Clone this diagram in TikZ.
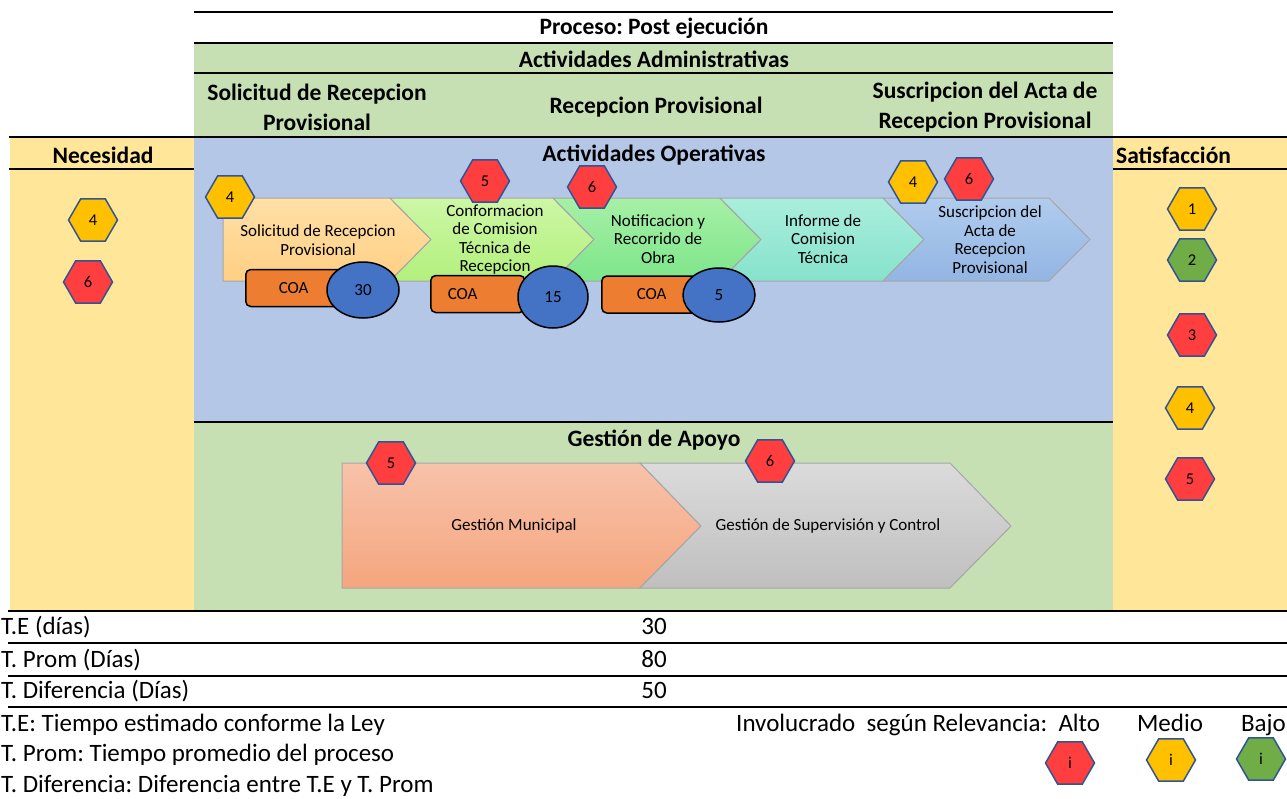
\documentclass[tikz,border=0pt]{standalone}
\usepackage{fontspec}
\setmainfont{Carlito}
\frenchspacing
\usetikzlibrary{shapes.geometric}

\definecolor{admgreen}{HTML}{C6E0B4}
\definecolor{opblue}{HTML}{B4C7E7}
\definecolor{needyellow}{HTML}{FFE699}
\definecolor{hexred}{HTML}{FF3F3F}
\definecolor{hexyellow}{HTML}{FFC000}
\definecolor{hexgreen}{HTML}{70AD47}
\definecolor{hexline}{HTML}{2F5597}
\definecolor{coaorange}{HTML}{ED7D31}
\definecolor{daysblue}{HTML}{4472C4}
\definecolor{chevAt}{HTML}{FFE0A6}\definecolor{chevAb}{HTML}{FFCF84}
\definecolor{chevBt}{HTML}{CDF7A6}\definecolor{chevBb}{HTML}{B2F07C}
\definecolor{chevCt}{HTML}{A6F0A6}\definecolor{chevCb}{HTML}{7DE58A}
\definecolor{chevDt}{HTML}{AAEEDD}\definecolor{chevDb}{HTML}{86E2CC}
\definecolor{chevEt}{HTML}{B0CCEE}\definecolor{chevEb}{HTML}{93B5E3}
\definecolor{munit}{HTML}{F8C2AA}\definecolor{munib}{HTML}{F4A67E}
\definecolor{supert}{HTML}{DBDBDB}\definecolor{superb}{HTML}{BFBFBF}

\tikzset{
  hexa/.style={regular polygon, regular polygon sides=6, minimum size=49pt,
    inner sep=0pt, draw=hexline, line width=1.5pt, font=\fontsize{16.5}{16.5}\selectfont},
  alto/.style={hexa, fill=hexred},
  medio/.style={hexa, fill=hexyellow},
  bajo/.style={hexa, fill=hexgreen},
  head/.style={font=\fontsize{23.5}{30}\selectfont\bfseries, align=center},
  steptext/.style={align=center, font=\fontsize{17}{18.5}\selectfont},
  chevline/.style={draw=gray!70, line width=1pt},
  coabox/.style={draw=black, line width=1.5pt, fill=coaorange, rounded corners=5pt,
    minimum height=37pt, text width=40pt, align=left, anchor=west,
    font=\fontsize{17}{17}\selectfont},
  days/.style={ellipse, draw=black, line width=1.5pt, fill=daysblue, inner sep=0pt,
    font=\fontsize{17}{17}\selectfont},
  rule/.style={line width=1.8pt},
  note/.style={anchor=west, inner sep=0pt, text height=18pt, text depth=5pt,
    font=\fontsize{25}{30}\selectfont}
}

\begin{document}
\begin{tikzpicture}[x=1pt, y=-1pt]
  \useasboundingbox (0,0) rectangle (1287,798);
  % Background bands
  \fill[admgreen] (194,43) rectangle (1113,137);
  \fill[needyellow] (10,137) rectangle (194,610);
  \fill[needyellow] (1113,137) rectangle (1287,610);
  \fill[opblue] (194,137) rectangle (1113,422);
  \fill[admgreen] (194,422) rectangle (1113,610);
  % Table rules
  \draw[rule] (194,12) -- (1113,12);
  \draw[rule] (194,43) -- (1113,43);
  \draw[rule] (194,73) -- (1113,73);
  \draw[rule] (9,137) -- (1287,137);
  \draw[rule] (9,169) -- (194,169);
  \draw[rule] (1113,169) -- (1287,169);
  \draw[rule] (194,422) -- (1113,422);
  \foreach \y in {611,643,676,707} {
    \draw[rule] (8,\y) -- (1287,\y);
  }
  % Headers
  \node[head] (proceso) at (654,28) {Proceso: Post ejecución};
  \node[head] (admin) at (654,59) {Actividades Administrativas};
  \node[head] (hsolicitud) at (317,107) {Solicitud de Recepcion\\Provisional};
  \node[head] (hrecepcion) at (656,107) {Recepcion Provisional};
  \node[head] (hsuscripcion) at (985,107) {Suscripcion del Acta de\\Recepcion Provisional};
  \node[head] (necesidad) at (103,155) {Necesidad};
  \node[head, anchor=west, inner sep=0pt] (satisfaccion) at (1116,155) {Satisfacción};
  \node[head] (operativas) at (654,155) {Actividades Operativas};
  \node[head] (apoyo) at (654,440) {Gestión de Apoyo};
  % Operational chevrons
  \shade[top color=chevAt, bottom color=chevAb, chevline]
    (223,198) -- (390,198) -- (431,239.5) -- (390,281) -- (223,281) -- cycle;
  \foreach \l/\r/\ct/\cb in {390/553/chevBt/chevBb, 553/720/chevCt/chevCb,
                             720/883/chevDt/chevDb, 883/1049/chevEt/chevEb} {
    \shade[top color=\ct, bottom color=\cb, chevline]
      (\l,198) -- (\r,198) -- (\r+41,239.5) -- (\r,281) -- (\l,281) -- (\l+41,239.5) -- cycle;
  }
  \node[steptext] (solicitud) at (318,240) {Solicitud de Recepcion\\Provisional};
  \node[steptext] (conformacion) at (495,239.5) {Conformacion\\de Comision\\Técnica de\\Recepcion};
  \node[steptext] (notificacion) at (658,239) {Notificacion y\\Recorrido de\\Obra};
  \node[steptext] (informe) at (823,239) {Informe de\\Comision\\Técnica};
  \node[steptext] (suscripcion) at (990,239.5) {Suscripcion del\\Acta de\\Recepcion\\Provisional};
  % COA boxes and days
  \node[coabox, inner xsep=33pt] (coa1) at (245,288) {COA};
  \node[days, minimum width=72pt, minimum height=56pt] (dias1) at (363,290) {30};
  \node[coabox, inner xsep=17pt, text width=60pt] (coa2) at (430,294) {COA};
  \node[days, minimum width=70pt, minimum height=62pt] (dias2) at (553,297) {15};
  \node[coabox, inner xsep=35pt] (coa3) at (601,294.5) {COA};
  \node[days, minimum width=72pt, minimum height=54pt] (dias3) at (719,295) {5};
  % Support chevrons
  \shade[top color=munit, bottom color=munib, chevline]
    (342,463) -- (640,463) -- (701,526) -- (640,588) -- (342,588) -- cycle;
  \shade[top color=supert, bottom color=superb, chevline]
    (640,463) -- (950,463) -- (1011,526) -- (950,588) -- (640,588) -- (701,526) -- cycle;
  \node[steptext] (municipal) at (514,526) {Gestión Municipal};
  \node[steptext] (supervision) at (828,526) {Gestión de Supervisión y Control};
  % Involved parties
  \node[medio] (nec4) at (93,220) {4};
  \node[alto] (nec6) at (88,282) {6};
  \node[medio] (sat1) at (1192,209) {1};
  \node[bajo] (sat2) at (1192,260) {2};
  \node[alto] (sat3) at (1192,335) {3};
  \node[medio] (sat4) at (1190,408) {4};
  \node[alto] (sat5) at (1190,479) {5};
  \node[medio] (op4a) at (230,197) {4};
  \node[alto] (op5) at (485,181) {5};
  \node[alto] (op6a) at (592,187) {6};
  \node[medio] (op4b) at (913,182) {4};
  \node[alto] (op6b) at (969,179) {6};
  \node[alto] (ap5) at (391,463) {5};
  \node[alto] (ap6) at (770,461) {6};
  % Times
  \node[note] (te) at (1,628) {T.E (días)};
  \node[note] (tprom) at (1,661) {T. Prom (Días)};
  \node[note] (tdif) at (1,692) {T. Diferencia (Días)};
  \node[note, anchor=east] (vte) at (667,628) {30};
  \node[note, anchor=east] (vprom) at (667,661) {80};
  \node[note, anchor=east] (vdif) at (667,692) {50};
  \node[note] (defte) at (1,725) {T.E: Tiempo estimado conforme la Ley};
  \node[note] (defprom) at (1,755) {T. Prom: Tiempo promedio del proceso};
  \node[note] (defdif) at (1,786) {T. Diferencia: Diferencia entre T.E y T. Prom};
  % Legend
  \node[note] (leyenda) at (736,725) {Involucrado\ \ según Relevancia:\ \ Alto};
  \node[note, anchor=center] (lmedio) at (1170,725) {Medio};
  \node[note, anchor=east] (lbajo) at (1286,725) {Bajo};
  \node[alto] (hexalto) at (1070,763) {i};
  \node[medio] (hexmedio) at (1171,760) {i};
  \node[bajo] (hexbajo) at (1261,759) {i};
\end{tikzpicture}
\end{document}
